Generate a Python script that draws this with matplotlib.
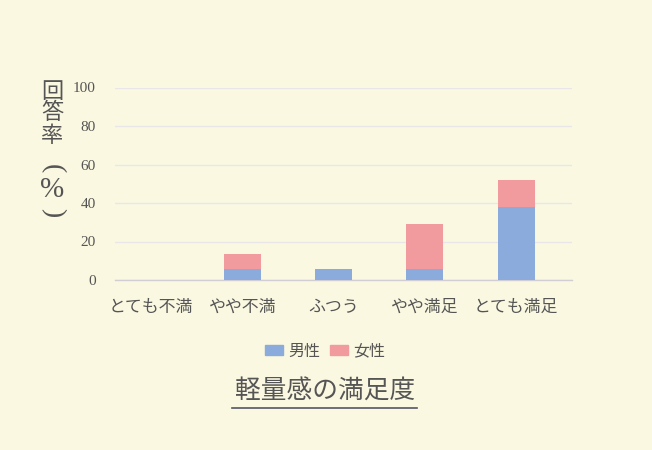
import matplotlib
matplotlib.use("Agg")
import matplotlib.pyplot as plt
import numpy as np
from matplotlib.patches import Patch

categories = ["とても不満", "やや不満", "ふつう", "やや満足", "とても満足"]
male = [0.0, 5.8, 5.8, 5.8, 38.0]
female = [0.0, 7.8, 0.0, 23.3, 14.0]
yticks = [0, 20, 40, 60, 80, 100]
series_names = ["男性", "女性"]
title = "軽量感の満足度"
ylabel_chars = ["回", "答", "率", "(", "%", ")"]

BG = "#FAF8E1"
BLUE = "#8AABDB"
PINK = "#F29B9F"
TXT = "#555555"
JP = ["Noto Sans CJK JP", "DejaVu Sans"]
SERIF = ["Liberation Serif"]

W, H = 652, 450
fig = plt.figure(figsize=(W / 100, H / 100), dpi=100, facecolor=BG)
left, right, top, bottom = 115, 572, 87.5, 280
ax = fig.add_axes([left / W, 1 - bottom / H, (right - left) / W, (bottom - top) / H])
ax.set_facecolor(BG)

x = np.arange(len(categories))
ax.bar(x, male, width=0.405, color=BLUE, zorder=3)
ax.bar(x, female, width=0.405, bottom=male, color=PINK, zorder=3)

ax.set_xlim(-0.394, 4.61)
ax.set_ylim(0, 100)
ax.set_yticks(yticks)
ax.set_yticklabels([str(v) for v in yticks], family="Liberation Serif", fontsize=11, color=TXT)
ax.yaxis.grid(True, color="#E8E6E8", linewidth=1, zorder=0)
ax.set_axisbelow(True)
for s in ["top", "right", "left"]:
    ax.spines[s].set_visible(False)
ax.spines["bottom"].set_color("#D0CED4")
ax.spines["bottom"].set_linewidth(1)
ax.tick_params(axis="both", length=0)
ax.tick_params(axis="y", pad=14)
ax.set_xticks(x)
ax.set_xticklabels(categories, family=JP, fontsize=12.2, color=TXT)
ax.tick_params(axis="x", pad=13)

# vertical y label (each glyph placed in its own cell; brackets turned for vertical writing)
ylabel_y = [91.7, 112.5, 135.5, 169, 190, 213]
ylabel_rot = [0, 0, 0, 270, 0, 270]
ylabel_fam = [JP, JP, JP, SERIF, SERIF, SERIF]
ylabel_size = [16, 16, 16, 20, 21, 20]
for ch, yy, rot, fam, sz in zip(ylabel_chars, ylabel_y, ylabel_rot, ylabel_fam, ylabel_size):
    fig.text(52.5 / W, 1 - yy / H, ch, family=fam, fontsize=sz, rotation=rot,
             color=TXT, ha="center", va="center")

# legend
handles = [Patch(color=BLUE), Patch(color=PINK)]
leg = fig.legend(handles, series_names, loc="center", bbox_to_anchor=(325 / W, 1 - 351 / H),
                 ncol=2, frameon=False, prop={"family": JP, "size": 11.5},
                 handlelength=1.15, handleheight=0.65, columnspacing=0.6, handletextpad=0.3)
for t in leg.get_texts():
    t.set_color(TXT)

# title with underline
fig.text(325 / W, 1 - 392 / H, title, family=JP, fontsize=18.5, color=TXT, ha="center", va="center")
fig.add_artist(plt.Line2D([232 / W, 417 / W], [1 - 407.5 / H, 1 - 407.5 / H],
                          color="#555566", linewidth=1.2))

fig.savefig("out.png", dpi=100, facecolor=BG)
